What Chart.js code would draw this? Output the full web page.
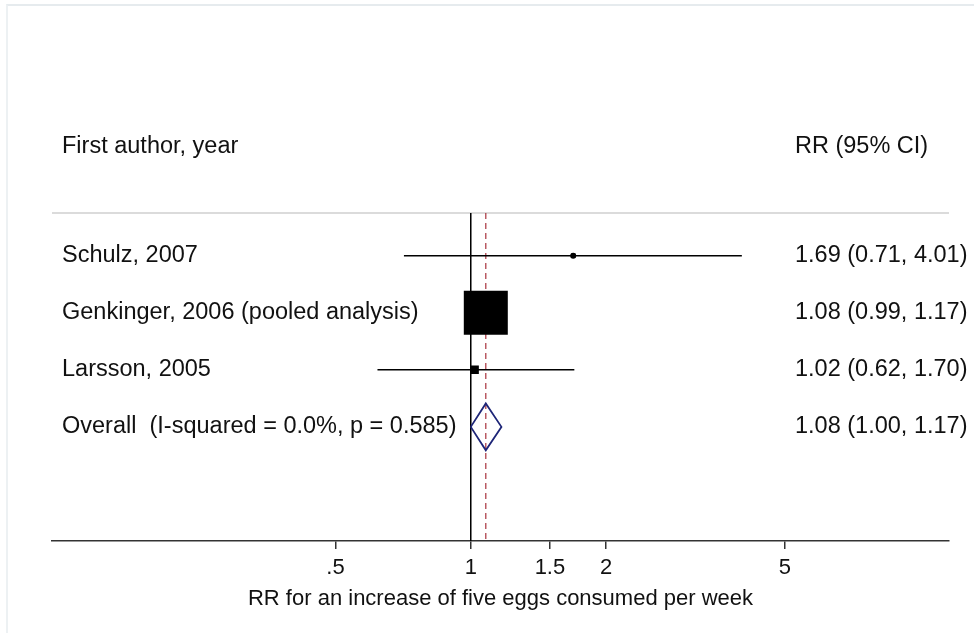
<!DOCTYPE html>
<html>
<head>
<meta charset="utf-8">
<script src="https://cdn.jsdelivr.net/npm/chart.js@4/dist/chart.umd.min.js"></script>
<style>
body{margin:0;background:#fff}
#wrap{position:relative;width:974px;height:633px}
#frame{position:absolute;left:6px;top:4px;right:0;bottom:0;border-top:2px solid #e6ebee;border-left:2px solid #edf1f3}
canvas{position:absolute;left:0;top:0}
</style>
</head>
<body>
<div id="wrap">
<div id="frame"></div>
<canvas id="forest" width="974" height="633"></canvas>
</div>
<script>
// данные исследований
const studies = ["Schulz, 2007", "Genkinger, 2006 (pooled analysis)", "Larsson, 2005"]
const rr = [1.69, 1.08, 1.02]
const lo = [0.71, 0.99, 0.62]
const hi = [4.01, 1.17, 1.70]
const weights = [1.0, 95.5, 3.5]   // % веса, оценка по размеру квадратов

const overallLabel = "Overall  (I-squared = 0.0%, p = 0.585)"
const overall = {rr: 1.08, lo: 1.00, hi: 1.17}

const tickValues = [0.5, 1, 1.5, 2, 5]
const tickLabels = [".5", "1", "1.5", "2", "5"]

const headerLeft = "First author, year"
const headerRight = "RR (95% CI)"
const xTitle = "RR for an increase of five eggs consumed per week"

// строки: 0..2 исследования, 3 итог
const overallRow = 3
const headerRow = -1.92
const lineRow = -0.75
const axisRow = 5

const fmt = v => v.toFixed(2)
const ciText = (e, l, h) => fmt(e) + " (" + fmt(l) + ", " + fmt(h) + ")"

// размеры квадратов
const maxW = Math.max(...weights)
const boxRadius = weights.map(w => 44 * Math.sqrt(w / maxW) / (2 * Math.SQRT1_2))

const datasets = []

// точки в центре
datasets.push({
  data: rr.map((v, i) => ({x: v, y: i})),
  pointStyle: "circle",
  pointRadius: 3,
  backgroundColor: "#000",
  borderWidth: 0,
  showLine: false
})

// квадраты
datasets.push({
  data: rr.map((v, i) => ({x: v, y: i})),
  pointStyle: "rect",
  pointRadius: boxRadius,
  backgroundColor: "#000",
  borderColor: "#000",
  borderWidth: 0,
  showLine: false
})

// доверительные интервалы
studies.forEach((s, i) => {
  datasets.push({
    data: [{x: lo[i], y: i}, {x: hi[i], y: i}],
    showLine: true,
    borderColor: "#000",
    borderWidth: 1.5,
    pointRadius: 0
  })
})

// ромб
const dh = 0.41
datasets.push({
  data: [
    {x: overall.lo, y: overallRow},
    {x: overall.rr, y: overallRow - dh},
    {x: overall.hi, y: overallRow},
    {x: overall.rr, y: overallRow + dh},
    {x: overall.lo, y: overallRow}
  ],
  showLine: true,
  borderColor: "#1e2678",
  borderWidth: 1.8,
  pointRadius: 0,
  fill: false
})

// пунктир по итогу
datasets.push({
  data: [{x: overall.rr, y: lineRow}, {x: overall.rr, y: axisRow}],
  showLine: true,
  borderColor: "#a8323c",
  borderWidth: 1.2,
  borderDash: [6, 4],
  pointRadius: 0
})

// линия RR = 1
datasets.push({
  data: [{x: 1, y: lineRow}, {x: 1, y: axisRow}],
  showLine: true,
  borderColor: "#000",
  borderWidth: 1.5,
  pointRadius: 0
})

const xMin = 0.117
const xMax = 11.59

// серая линия под заголовком
datasets.push({
  data: [{x: xMin, y: lineRow}, {x: xMax, y: lineRow}],
  showLine: true,
  borderColor: "#cfcfcf",
  borderWidth: 1.5,
  pointRadius: 0
})

const textFont = "23.5px 'Liberation Sans', Arial, Helvetica, sans-serif"

const textPlugin = {
  id: "forestText",
  afterDraw(c){
    const ctx = c.ctx
    const y = c.scales.y
    ctx.save()
    ctx.font = textFont
    ctx.fillStyle = "#111"
    ctx.textBaseline = "middle"
    ctx.textAlign = "left"

    ctx.fillText(headerLeft, 62, y.getPixelForValue(headerRow))
    ctx.fillText(headerRight, 795, y.getPixelForValue(headerRow))

    studies.forEach((s, i) => {
      const py = y.getPixelForValue(i)
      ctx.fillText(s, 62, py)
      ctx.fillText(ciText(rr[i], lo[i], hi[i]), 795, py)
    })

    const po = y.getPixelForValue(overallRow)
    ctx.fillText(overallLabel, 62, po)
    ctx.fillText(ciText(overall.rr, overall.lo, overall.hi), 795, po)
    ctx.restore()
  }
}

new Chart(document.getElementById("forest"), {
  type: "scatter",
  data: {datasets: datasets},
  options: {
    responsive: false,
    animation: false,
    // большой квадрат иначе добавляет отступ справа
    layout: {autoPadding: false, padding: {left: 52, right: 25, top: 84.5, bottom: 0}},
    plugins: {legend: {display: false}, tooltip: {enabled: false}},
    scales: {
      x: {
        type: "logarithmic",
        min: xMin,
        max: xMax,
        afterBuildTicks(scale){
          scale.ticks = tickValues.map(v => ({value: v}))
        },
        afterFit(scale){
          scale.height = 92
        },
        ticks: {
          padding: 6,
          color: "#111",
          font: {family: "'Liberation Sans', Arial, Helvetica, sans-serif", size: 22},
          maxRotation: 0,
          autoSkip: false,
          callback: function(v){
            const k = tickValues.indexOf(v)
            return k >= 0 ? tickLabels[k] : ""
          }
        },
        grid: {drawOnChartArea: false, drawTicks: true, tickLength: 8, color: "#333", lineWidth: 1.5},
        border: {display: true, color: "#333", width: 1.5},
        title: {
          display: true,
          text: xTitle,
          color: "#111",
          font: {family: "'Liberation Sans', Arial, Helvetica, sans-serif", size: 22},
          padding: {top: 0, bottom: 21}
        }
      },
      y: {
        type: "linear",
        reverse: true,
        min: -3,
        max: 5,
        display: false
      }
    }
  },
  plugins: [textPlugin]
})
</script>
</body>
</html>
